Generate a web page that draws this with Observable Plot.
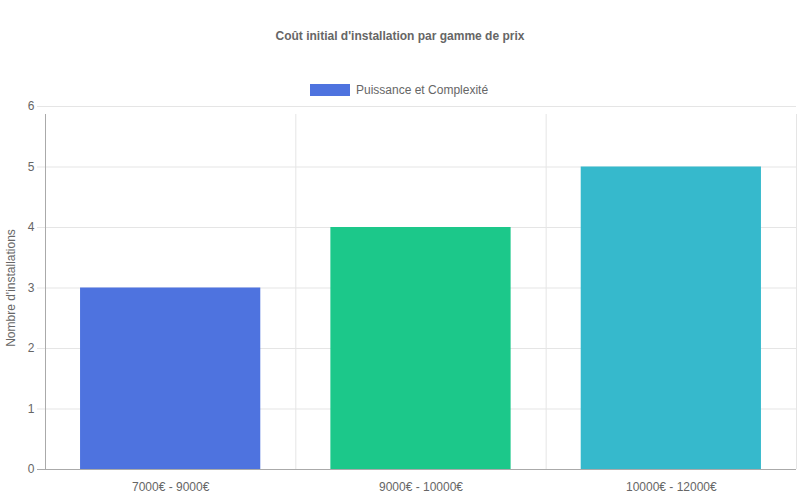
<!DOCTYPE html>
<html>
<head>
<meta charset="utf-8">
<script src="https://cdn.jsdelivr.net/npm/d3@7"></script>
<script src="https://cdn.jsdelivr.net/npm/@observablehq/plot@0.6"></script>
<style>
  body { margin: 0; background: #fff; font-family: "Liberation Sans", Arial, Helvetica, sans-serif; }
  #wrap { width: 800px; }
  #header { position: relative; height: 100px; width: 800px; }
  #title { position: absolute; top: 29px; left: 0; width: 800px; text-align: center; font-size: 12px; font-weight: bold; color: #666; }
  #legend { position: absolute; top: 83px; left: 310px; display: flex; align-items: center; font-size: 12px; color: #666; }
  #legend .sw { width: 40px; height: 12px; background: #4e73df; margin-right: 6px; }
</style>
</head>
<body>
<div id="wrap">
  <div id="header">
    <div id="title"></div>
    <div id="legend"><span class="sw"></span><span id="legtext"></span></div>
  </div>
  <div id="chart"></div>
</div>
<script>
const title = "Coût initial d'installation par gamme de prix";
const seriesName = "Puissance et Complexité";
const categories = ["7000€ - 9000€", "9000€ - 10000€", "10000€ - 12000€"];
const values = [3, 4, 5];
const colors = ["#4e73df", "#1cc88a", "#36b9cc"];
const yTicks = [0, 1, 2, 3, 4, 5, 6];
const yLabel = "Nombre d'installations";

document.getElementById("title").textContent = title;
document.getElementById("legtext").textContent = seriesName;

const data = categories.map((c, i) => ({cat: c, idx: i, value: values[i], color: colors[i]}));
const edges = d3.range(categories.length + 1).map(i => i - 0.5);
const half = 0.36;

const chart = Plot.plot({
  width: 800,
  height: 400,
  marginTop: 6,
  marginBottom: 31,
  marginLeft: 45,
  marginRight: 4,
  style: {fontFamily: "'Liberation Sans', Arial, Helvetica, sans-serif", fontSize: "12px", color: "#666", background: "#fff"},
  x: {type: "linear", domain: [-0.5, categories.length - 0.5]},
  y: {domain: [0, 6]},
  color: {type: "identity"},
  marks: [
    Plot.gridY(yTicks, {stroke: "#e5e5e5", strokeOpacity: 1}),
    Plot.ruleX(edges.slice(1), {y1: 0, y2: 6, stroke: "#e5e5e5", insetBottom: -8}),
    Plot.rectY(data, {x1: d => d.idx - half, x2: d => d.idx + half, y1: 0, y2: "value", fill: "color"}),
    Plot.axisY(yTicks, {tickSize: 8, tickPadding: 3, stroke: "#e5e5e5", fill: "#666", fontSize: 12,
      tickFormat: d3.format("d"),
      label: yLabel, labelAnchor: "center", labelOffset: 39, labelArrow: "none"}),
    Plot.axisX(data.map(d => d.idx), {tickSize: 0, tickPadding: 13, fill: "#666", fontSize: 12,
      tickFormat: i => categories[i], label: null}),
    Plot.ruleY([0], {stroke: "#aaa", insetLeft: -8}),
    Plot.ruleX(edges.slice(0, 1), {y1: 0, y2: 6, stroke: "#aaa", insetBottom: -8})
  ]
});
document.getElementById("chart").appendChild(chart);
</script>
</body>
</html>
